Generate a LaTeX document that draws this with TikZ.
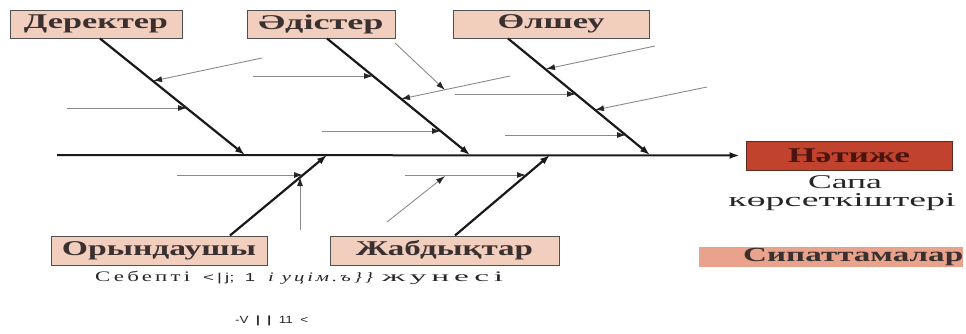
\documentclass[tikz,border=0pt]{standalone}
\usepackage{graphicx}
\usepackage{fontspec}
\setmainfont{Liberation Serif}
\newfontfamily\sansf{Liberation Sans}
\newfontfamily\spacedf[LetterSpace=14]{Liberation Serif}
\usetikzlibrary{arrows.meta,calc}
\definecolor{peach}{HTML}{F2CEBE}
\definecolor{boxline}{HTML}{505050}
\definecolor{boxtxt}{HTML}{3A3030}
\definecolor{resfill}{HTML}{C1432E}
\definecolor{resline}{HTML}{5B2B20}
\definecolor{restxt}{HTML}{4A1510}
\definecolor{charfill}{HTML}{E9A38C}
\definecolor{thin}{HTML}{8A8A8A}
\newcommand\fitw[2]{\resizebox{#1}{\height}{#2}}
\tikzset{
  causebox/.style={draw=boxline, line width=1pt, fill=peach, inner sep=0pt,
    minimum height=28pt, text=boxtxt, font=\bfseries\fontsize{21}{21}\selectfont},
  resbox/.style={draw=resline, line width=1pt, fill=resfill, inner sep=0pt,
    minimum height=29pt, text=restxt, font=\bfseries\fontsize{21}{21}\selectfont},
  charbox/.style={fill=charfill, inner sep=0pt, minimum height=20pt,
    text=boxtxt, font=\bfseries\fontsize{20}{20}\selectfont, anchor=west},
  bone/.style={line width=2.2pt, draw=black!90, -{Latex[length=10pt,width=7pt]}},
  spine/.style={line width=2pt, draw=black!90, -{Latex[length=10pt,width=7pt]}},
  sub/.style={line width=0.9pt, draw=thin, -{Latex[length=9pt,width=6pt,color=black!85]}},
  plain/.style={inner sep=0pt, anchor=base west, text=black!85}
}
\begin{document}
\begin{tikzpicture}[x=1pt,y=-1pt]
\useasboundingbox (0,0) rectangle (966,333);

% cause boxes
\node[causebox, minimum width=172pt] (D) at (96,24) {\fitw{144pt}{Деректер}};
\node[causebox, minimum width=148pt] (M) at (321,24) {\fitw{125pt}{Әдістер}};
\node[causebox, minimum width=196pt] (O) at (551,24) {\fitw{107pt}{Өлшеу}};
\node[causebox, minimum width=216pt, minimum height=29pt] (R) at (159,250.5) {\fitw{194pt}{Орындаушы}};
\node[causebox, minimum width=229pt, minimum height=29pt] (J) at (444.5,250.5) {\fitw{177pt}{Жабдықтар}};

% result
\node[resbox, minimum width=206pt] (N) at (849,155.5) {\fitw{122pt}{Нәтиже}};
\node[inner sep=0pt, anchor=base, text=black!85, font=\fontsize{19.5}{19.5}\selectfont] (S1) at (845,188) {\fitw{74pt}{Сапа}};
\node[inner sep=0pt, anchor=base, text=black!85, font=\fontsize{19.5}{19.5}\selectfont] (S2) at (842,206) {\fitw{227pt}{көрсеткіштері}};

\begin{scope}
\clip (0,0) rectangle (966,333);
\node[charbox] (C) at (699,257) {\hspace{44pt}\fitw{220pt}{Сипаттамалар}\hspace{30pt}};
\end{scope}

% spine
\coordinate (s0) at (57,155);
\draw[spine, shorten >=6pt] (s0) -- (N.west);

% bone junctions
\coordinate (j1) at (245,155);
\coordinate (j2) at (470,155);
\coordinate (j3) at (650,155);
\coordinate (j4) at (327,155);
\coordinate (j5) at (550,155);
\draw[bone] ([xshift=4pt]D.south) -- (j1);
\draw[bone] ([xshift=6pt]M.south) -- (j2);
\draw[bone] ([xshift=-43pt]O.south) -- (j3);
\draw[bone] ([xshift=71pt]R.north) -- (j4);
\draw[bone] ([xshift=10.5pt]J.north) -- (j5);

% sub causes
\coordinate (a1s) at (262,58);  \coordinate (a1t) at (153,81);
\coordinate (a2s) at (67,108);  \coordinate (a2t) at (187,108);
\coordinate (a3s) at (253,76);  \coordinate (a3t) at (373,76);
\coordinate (a4s) at (395,43);  \coordinate (a4t) at (445,90);
\coordinate (a5s) at (510,76);  \coordinate (a5t) at (401,99);
\coordinate (a6s) at (455,94);  \coordinate (a6t) at (576,94);
\coordinate (a7s) at (322,131); \coordinate (a7t) at (441,131);
\coordinate (a8s) at (655,46);  \coordinate (a8t) at (546,69);
\coordinate (a9s) at (707,87);  \coordinate (a9t) at (595,110);
\coordinate (a10s) at (505,135); \coordinate (a10t) at (626,135);
\coordinate (a11s) at (177,175); \coordinate (a11t) at (303,175);
\coordinate (a12s) at (300,230); \coordinate (a12t) at (300,177);
\coordinate (a13s) at (387,222); \coordinate (a13t) at (445,176);
\coordinate (a14s) at (405,175); \coordinate (a14t) at (526,175);
\foreach \i in {1,...,14} {\draw[sub] (a\i s) -- (a\i t);}

% caption
\node[plain, font=\spacedf\fontsize{14.5}{14.5}\selectfont] (c1) at (95,281) {\fitw{95pt}{Себепті}};
\node[plain, font=\sansf\fontsize{11.5}{11.5}\selectfont] (c2) at (203,281) {\fitw{52pt}{<\,|\,j;\ \ 1}};
\node[plain, font=\spacedf\itshape\fontsize{13}{13}\selectfont] (c3) at (268,281) {\fitw{105pt}{і уцім.ъ\}\}}};
\node[plain, font=\spacedf\fontsize{14.5}{14.5}\selectfont] (c4) at (382,281) {\fitw{121pt}{жунесі}};
\node[plain, font=\sansf\fontsize{10.5}{10.5}\selectfont] (g1) at (235,323) {\fitw{73pt}{-V\ \ \textbf{|}\ \ \textbf{|}\ \ 11\ \ <}};
\end{tikzpicture}
\end{document}
